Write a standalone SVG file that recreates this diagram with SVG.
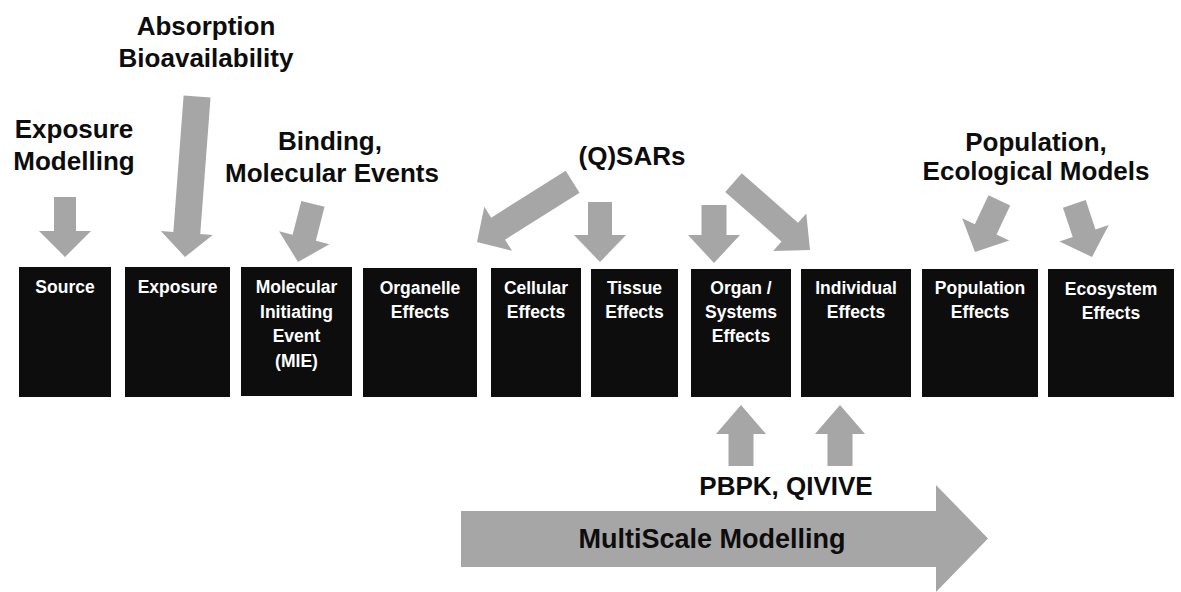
<svg xmlns="http://www.w3.org/2000/svg" width="1181" height="592" viewBox="0 0 1181 592">
<style>
.box{fill:#0d0d0d}
.bt{fill:#ffffff;font-family:"Liberation Sans",Arial,sans-serif;font-weight:bold;font-size:17.5px;text-anchor:middle}
.lbl{fill:#0d0d0d;font-family:"Liberation Sans",Arial,sans-serif;font-weight:bold;font-size:26px;text-anchor:middle}
.arr{fill:#a6a6a6}
</style>
<rect width="1181" height="592" fill="#ffffff"/>
<g id="connectors">
<path class="arr" transform="translate(65,257)" d="M-11,-60 L11,-60 L11,-26 L26,-26 L0,0 L-26,-26 L-11,-26 Z"/>
<path class="arr" transform="translate(185,257) rotate(4.3)" d="M-13.5,-161 L13.5,-161 L13.5,-24 L26,-24 L0,0 L-26,-24 L-13.5,-24 Z"/>
<path class="arr" transform="translate(298,262) rotate(14.4)" d="M-12,-60 L12,-60 L12,-25 L26,-25 L0,0 L-26,-25 L-12,-25 Z"/>
<path class="arr" transform="translate(477,242) rotate(57.8)" d="M-13,-113 L13,-113 L13,-25 L26,-25 L0,0 L-26,-25 L-13,-25 Z"/>
<path class="arr" transform="translate(600,262)" d="M-12,-60 L12,-60 L12,-27 L26,-27 L0,0 L-26,-27 L-12,-27 Z"/>
<path class="arr" transform="translate(714,263)" d="M-12.5,-58 L12.5,-58 L12.5,-28 L26,-28 L0,0 L-26,-28 L-12.5,-28 Z"/>
<path class="arr" transform="translate(810,250) rotate(-48.6)" d="M-12.5,-102 L12.5,-102 L12.5,-27 L25,-27 L0,0 L-25,-27 L-12.5,-27 Z"/>
<path class="arr" transform="translate(975,252) rotate(25.3)" d="M-12,-57 L12,-57 L12,-25 L26,-25 L0,0 L-26,-25 L-12,-25 Z"/>
<path class="arr" transform="translate(1092,257) rotate(-18.4)" d="M-12,-56 L12,-56 L12,-25 L26,-25 L0,0 L-26,-25 L-12,-25 Z"/>
<path class="arr" transform="translate(741,405) rotate(180)" d="M-12.5,-61 L12.5,-61 L12.5,-29 L25,-29 L0,0 L-25,-29 L-12.5,-29 Z"/>
<path class="arr" transform="translate(840,405) rotate(180)" d="M-12.5,-61 L12.5,-61 L12.5,-29 L25,-29 L0,0 L-25,-29 L-12.5,-29 Z"/>
<path class="arr" d="M461,511 L936,511 L936,485 L988,538.5 L936,592 L936,567 L461,567 Z"/>
</g>
<g id="label-exposure-modelling"><text class="lbl" x="74" y="138">Exposure</text><text class="lbl" x="74" y="170">Modelling</text></g>
<g id="label-absorption"><text class="lbl" x="206" y="35">Absorption</text><text class="lbl" x="206" y="67">Bioavailability</text></g>
<g id="label-binding"><text class="lbl" x="330" y="150">Binding,</text><text class="lbl" x="332" y="182">Molecular Events</text></g>
<g id="label-qsars"><text class="lbl" x="632" y="165">(Q)SARs</text></g>
<g id="label-population"><text class="lbl" x="1036" y="151">Population,</text><text class="lbl" x="1036" y="180">Ecological Models</text></g>
<g id="label-pbpk"><text class="lbl" x="786" y="495">PBPK, QIVIVE</text></g>
<g id="label-multiscale"><text class="lbl" x="712" y="548" style="font-size:27px">MultiScale Modelling</text></g>
<g id="source"><rect class="box" x="19" y="267" width="92" height="130"/><text class="bt" x="65" y="293">Source</text></g>
<g id="exposure"><rect class="box" x="125" y="267" width="105" height="130"/><text class="bt" x="177.5" y="293">Exposure</text></g>
<g id="mie"><rect class="box" x="241" y="267" width="111" height="129"/><text class="bt" x="296.5" y="293">Molecular</text><text class="bt" x="296.5" y="317.5">Initiating</text><text class="bt" x="296.5" y="342">Event</text><text class="bt" x="296.5" y="366.5">(MIE)</text></g>
<g id="organelle"><rect class="box" x="363" y="268" width="114" height="129"/><text class="bt" x="420" y="294">Organelle</text><text class="bt" x="420" y="318">Effects</text></g>
<g id="cellular"><rect class="box" x="491" y="268" width="90" height="129"/><text class="bt" x="536" y="294">Cellular</text><text class="bt" x="536" y="318">Effects</text></g>
<g id="tissue"><rect class="box" x="591" y="269" width="87" height="128"/><text class="bt" x="634.5" y="294">Tissue</text><text class="bt" x="634.5" y="318">Effects</text></g>
<g id="organ"><rect class="box" x="691" y="269" width="100" height="128"/><text class="bt" x="741" y="294">Organ /</text><text class="bt" x="741" y="318">Systems</text><text class="bt" x="741" y="342">Effects</text></g>
<g id="individual"><rect class="box" x="801" y="269" width="110" height="128"/><text class="bt" x="856" y="294">Individual</text><text class="bt" x="856" y="318">Effects</text></g>
<g id="population"><rect class="box" x="922" y="269" width="116" height="128"/><text class="bt" x="980" y="294">Population</text><text class="bt" x="980" y="318">Effects</text></g>
<g id="ecosystem"><rect class="box" x="1048" y="269" width="126" height="128"/><text class="bt" x="1111" y="295">Ecosystem</text><text class="bt" x="1111" y="319">Effects</text></g>
</svg>
